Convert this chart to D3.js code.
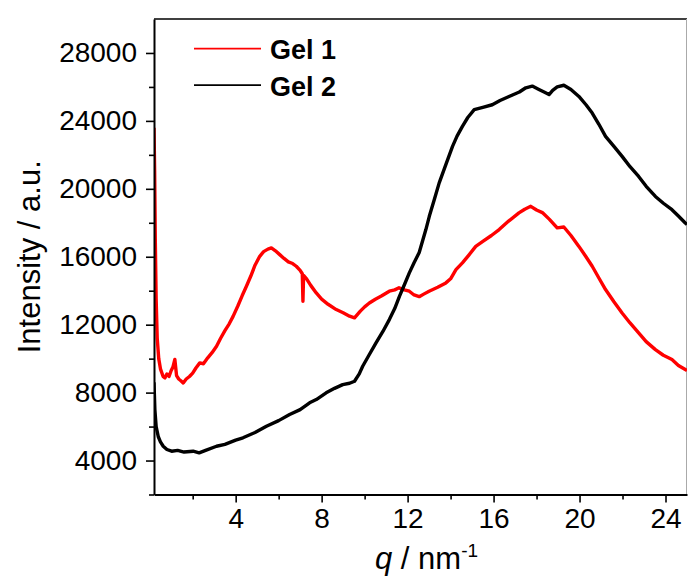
<!DOCTYPE html>
<html>
<head>
<meta charset="utf-8">
<script src="https://cdn.jsdelivr.net/npm/d3@7"></script>
<style>
  html, body { margin: 0; padding: 0; background: #fff; }
  svg { display: block; font-family: "Liberation Sans", Arial, sans-serif; }
</style>
</head>
<body>
<div id="chart"></div>
<script>
const seriesNames = ["Gel 1", "Gel 2"];
const seriesColors = ["#ff0000", "#000000"];

const gel1Q = [0.2, 0.23, 0.26, 0.3, 0.35, 0.42, 0.5, 0.62, 0.71, 0.8, 0.9, 1.0, 1.08, 1.17, 1.25, 1.35, 1.45, 1.56, 1.7, 1.85,
  2.0, 2.15, 2.33, 2.5, 2.7, 2.9, 3.11, 3.3, 3.5, 3.7, 3.88, 4.1, 4.3, 4.5, 4.7, 4.9, 5.12, 5.3, 5.5, 5.66,
  5.85, 6.05, 6.25, 6.45, 6.65, 6.82, 7.0, 7.1, 7.13, 7.16, 7.3, 7.5, 7.75, 8.0, 8.3, 8.68, 9.0, 9.3, 9.53, 9.8,
  10.0, 10.22, 10.5, 10.8, 11.15, 11.4, 11.6, 11.85, 12.08, 12.3, 12.54, 12.75, 13.0, 13.4, 13.78, 14.0, 14.25, 14.55, 14.85, 15.17,
  15.5, 15.9, 16.26, 16.7, 17.18, 17.45, 17.73, 18.0, 18.27, 18.6, 18.96, 19.27, 19.6, 19.97, 20.3, 20.59, 20.9, 21.21, 21.6, 21.98,
  22.35, 22.75, 23.1, 23.53, 23.9, 24.3, 24.6, 24.92, 25.0];
const gel1I = [23600, 21000, 17000, 13500, 11200, 10000, 9400, 8960, 8870, 9100, 8950, 9300, 9500, 9950, 9000, 8800, 8700, 8570, 8800, 8950,
  9150, 9450, 9750, 9700, 10050, 10350, 10730, 11200, 11650, 12050, 12490, 13100, 13700, 14260, 14850, 15500, 16025, 16300, 16450, 16520,
  16350, 16125, 15900, 15700, 15600, 15440, 15200, 15000, 13380, 14900, 14700, 14300, 13870, 13500, 13200, 12890, 12700, 12500, 12400, 12800,
  13050, 13280, 13500, 13700, 13970, 14050, 14170, 14050, 13970, 13750, 13650, 13800, 13970, 14200, 14460, 14700, 15240, 15640, 16100, 16610,
  16900, 17250, 17600, 18100, 18580, 18800, 18970, 18750, 18600, 18200, 17700, 17750, 17250, 16610, 16000, 15440, 14750, 14070, 13350, 12690,
  12100, 11520, 11000, 10530, 10200, 9945, 9600, 9360, 9300];

const gel2Q = [0.2, 0.24, 0.3, 0.4, 0.5, 0.63, 0.8, 1.02, 1.3, 1.6, 2.02, 2.3, 2.6, 3.11, 3.5, 4.0, 4.34, 4.9, 5.43, 6.0,
  6.51, 7.0, 7.44, 7.75, 8.21, 8.6, 8.98, 9.3, 9.53, 9.75, 9.91, 10.2, 10.53, 10.85, 11.15, 11.4, 11.62, 11.85, 12.08, 12.3,
  12.54, 12.85, 13.01, 13.25, 13.47, 13.8, 14.09, 14.3, 14.55, 14.8, 15.1, 15.5, 15.94, 16.3, 16.72, 17.2, 17.5, 17.8, 18.11, 18.35,
  18.58, 18.75, 18.96, 19.27, 19.6, 19.97, 20.3, 20.59, 20.9, 21.21, 21.6, 21.98, 22.35, 22.75, 23.1, 23.53, 23.9, 24.3, 24.6, 24.92, 25.0];
const gel2I = [8600, 7000, 6000, 5400, 5100, 4840, 4650, 4550, 4600, 4500, 4550, 4450, 4600, 4840, 4950, 5200, 5340, 5650, 6020, 6350,
  6710, 7000, 7400, 7590, 7985, 8250, 8470, 8550, 8670, 9100, 9550, 10200, 10930, 11600, 12300, 12950, 13670, 14350, 15050, 15650,
  16250, 17600, 18380, 19400, 20350, 21500, 22500, 23100, 23680, 24200, 24660, 24800, 24950, 25200, 25440, 25700, 25950, 26050, 25850, 25700,
  25550, 25800, 26000, 26100, 25850, 25440, 24950, 24460, 23800, 23090, 22500, 21910, 21300, 20730, 20150, 19550, 19150, 18770, 18400, 17990, 17900];

const xTicks = [4, 8, 12, 16, 20, 24];
const xMinorTicks = [2, 6, 10, 14, 18, 22];
const yTicks = [4000, 8000, 12000, 16000, 20000, 24000, 28000];
const yMinorTicks = [2000, 6000, 10000, 14000, 18000, 22000, 26000];

const width = 688;
const height = 579;
const plotLeft = 154, plotRight = 687, plotTop = 19, plotBottom = 494.5;

const x = d3.scaleLinear().domain([0.2, 25]).range([plotLeft, plotRight]);
const y = d3.scaleLinear().domain([2000, 30000]).range([plotBottom, plotTop]);

const svg = d3.select("#chart").append("svg")
  .attr("width", width)
  .attr("height", height);

svg.append("clipPath").attr("id", "plot-clip")
  .append("rect")
  .attr("x", plotLeft)
  .attr("y", plotTop)
  .attr("width", plotRight - plotLeft)
  .attr("height", plotBottom - plotTop);

// frame: top black, right light
svg.append("line")
  .attr("x1", plotLeft).attr("x2", plotRight)
  .attr("y1", plotTop).attr("y2", plotTop)
  .style("stroke", "#000")
  .attr("stroke-width", 1.6);
svg.append("line")
  .attr("x1", plotRight - 0.5).attr("x2", plotRight - 0.5)
  .attr("y1", plotTop).attr("y2", plotBottom)
  .style("stroke", "#aaa")
  .attr("stroke-width", 1);

const series = [
  { q: gel1Q, v: gel1I },
  { q: gel2Q, v: gel2I }
];

const line = d3.line()
  .x(d => x(d[0]))
  .y(d => y(d[1]));

const plot = svg.append("g").attr("clip-path", "url(#plot-clip)");
series.forEach((s, i) => {
  plot.append("path")
    .datum(s.q.map((q, j) => [q, s.v[j]]))
    .attr("d", line)
    .style("fill", "none")
    .style("stroke", seriesColors[i])
    .attr("stroke-width", 3.4)
    .attr("stroke-linejoin", "round");
});

// axes
const xAxis = svg.append("g")
  .attr("transform", `translate(0,${plotBottom})`)
  .call(d3.axisBottom(x).tickValues(xTicks).tickSize(8).tickPadding(6).tickSizeOuter(0));
xAxis.selectAll(".tick text")
  .attr("font-size", "28px")
  .attr("font-family", "Liberation Sans, Arial, sans-serif")
  .style("fill", "#000");
svg.append("g")
  .attr("transform", `translate(0,${plotBottom})`)
  .call(d3.axisBottom(x).tickValues(xMinorTicks).tickSize(5).tickFormat("").tickSizeOuter(0))
  .select(".domain").remove();

const yAxis = svg.append("g")
  .attr("transform", `translate(${plotLeft},0)`)
  .call(d3.axisLeft(y).tickValues(yTicks).tickSize(8).tickPadding(9).tickFormat(d3.format("d")).tickSizeOuter(0));
yAxis.selectAll(".tick text")
  .attr("font-size", "28px")
  .attr("font-family", "Liberation Sans, Arial, sans-serif")
  .style("fill", "#000");
svg.append("g")
  .attr("transform", `translate(${plotLeft},0)`)
  .call(d3.axisLeft(y).tickValues(yMinorTicks).tickSize(5).tickFormat("").tickSizeOuter(0))
  .select(".domain").remove();

svg.selectAll(".domain").attr("stroke-width", 2);
svg.selectAll(".tick line").attr("stroke-width", 1.6);

// axis titles
svg.append("text")
  .attr("transform", `translate(40,${(plotTop + plotBottom) / 2}) rotate(-90)`)
  .attr("text-anchor", "middle")
  .attr("font-size", "31px")
  .style("fill", "#000")
  .text("Intensity / a.u.");

const xTitle = svg.append("text")
  .attr("x", (plotLeft + plotRight) / 2 + 6)
  .attr("y", 569)
  .attr("text-anchor", "middle")
  .attr("font-size", "31px")
  .style("fill", "#000");
xTitle.append("tspan").attr("font-style", "italic").text("q");
xTitle.append("tspan").text(" / nm");
xTitle.append("tspan").attr("font-size", "19px").attr("dy", "-12").text("-1");

// legend
seriesNames.forEach((name, i) => {
  const ly = 48.7 + i * 36.5;
  svg.append("line")
    .attr("x1", 194).attr("x2", 261)
    .attr("y1", ly).attr("y2", ly)
    .style("stroke", seriesColors[i])
    .attr("stroke-width", 1.8);
  svg.append("text")
    .attr("x", 270)
    .attr("y", ly + 10.5)
    .attr("font-size", "27px")
    .attr("font-weight", "700")
    .style("fill", "#000")
    .text(name);
});
</script>
</body>
</html>
